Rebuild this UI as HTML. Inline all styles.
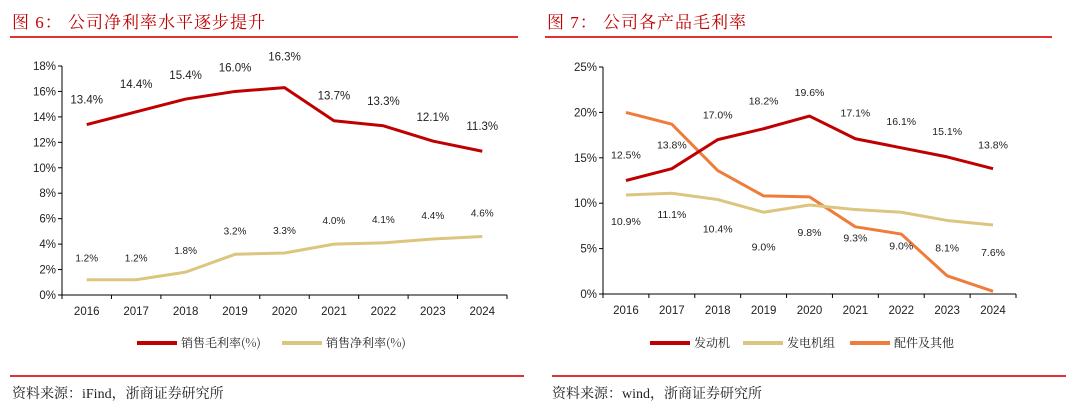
<!DOCTYPE html>
<html><head><meta charset="utf-8"><style>
body{margin:0;width:1080px;height:414px;background:#fff;overflow:hidden;font-family:"Liberation Sans","Noto Sans CJK SC",sans-serif;}
.title{position:absolute;top:8px;font-family:"Liberation Serif","Noto Serif CJK SC",serif;color:#c00000;font-size:17px;letter-spacing:1px}
.src{position:absolute;top:383px;font-family:"Liberation Serif","Noto Serif CJK SC",serif;font-size:14px;color:#222}
.rule{position:absolute;height:1.5px;background:#d33}
svg{position:absolute;left:0;top:0}
</style></head><body>
<div class="title" style="left:12px">图 6： 公司净利率水平逐步提升</div>
<div class="title" style="left:547px">图 7： 公司各产品毛利率</div>
<div class="rule" style="left:10px;width:508px;top:36px"></div>
<div class="rule" style="left:545px;width:507px;top:36px"></div>
<div class="rule" style="left:10px;width:514px;top:375px"></div>
<div class="rule" style="left:552px;width:514px;top:375px"></div>
<div class="src" style="left:12px">资料来源：iFind，浙商证券研究所</div>
<div class="src" style="left:552px">资料来源：wind，浙商证券研究所</div>
<svg id="s" width="1080" height="414"></svg>
<script>
const years=['2016','2017','2018','2019','2020','2021','2022','2023','2024'];
const grossMargin=[13.4,14.4,15.4,16.0,16.3,13.7,13.3,12.1,11.3];
const netMargin=[1.2,1.2,1.8,3.2,3.3,4.0,4.1,4.4,4.6];
const leftTicks=[0,2,4,6,8,10,12,14,16,18];
const engine=[12.5,13.8,17.0,18.2,19.6,17.1,16.1,15.1,13.8];
const genset=[10.9,11.1,10.4,9.0,9.8,9.3,9.0,8.1,7.6];
const parts=[20.0,18.7,13.6,10.8,10.7,7.4,6.6,2.0,0.3];
const rightTicks=[0,5,10,15,20,25];
const NS='http://www.w3.org/2000/svg';
const svg=document.getElementById('s');
function mk(t,a,name){const e=document.createElementNS(NS,t);for(const k in a)e.setAttribute(k,a[k]);


svg.appendChild(e);return e;}
function txt(x,y,s,name,anchor,size){const e=mk('text',{x:x,y:y,'font-size':size||11,'text-anchor':anchor||'middle',fill:'#222'},name);e.textContent=s;return e;}
function chart(o){
 const x0=o.x0,x1=o.x1,yb=o.yb,yt=o.yt,max=o.max,n=years.length,bw=(x1-x0)/n;
 const X=i=>x0+bw*(i+0.5), Y=v=>yb-(v/max)*(yb-yt);
 mk('line',{x1:x0,y1:yt,x2:x0,y2:yb,stroke:'#000','stroke-width':1},'y-axis');
 mk('line',{x1:x0,y1:yb,x2:x1,y2:yb,stroke:'#000','stroke-width':1},'x-axis');
 o.ticks.forEach(t=>{mk('line',{x1:x0-4,y1:Y(t),x2:x0,y2:Y(t),stroke:'#000'},'y-tick');
  txt(x0-6,Y(t)+4,t+'%','y-tick-label','end',11.5);});
 for(let i=0;i<=n;i++)mk('line',{x1:x0+bw*i,y1:yb,x2:x0+bw*i,y2:yb+4,stroke:'#000'},'x-tick');
 years.forEach((y,i)=>txt(X(i),yb+20,y,'x-tick-label','middle',11.5));
 o.series.forEach(s=>{
  mk('polyline',{points:s.d.map((v,i)=>X(i)+','+Y(v)).join(' '),fill:'none',stroke:s.c,'stroke-width':3,'stroke-linejoin':'round'},s.name+'-line');
  if(s.lab) s.d.forEach((v,i)=>txt(X(i),Y(v)+s.lab[i],v.toFixed(1)+'%',s.name+'-label','middle',s.fs||11.5));
 });
}
chart({x0:62,x1:507,yb:295,yt:66,max:18,ticks:leftTicks,series:[
 {d:grossMargin,c:'#c00000',name:'gross-margin',lab:[-21,-24,-20,-20,-27,-21,-21,-20,-21]},
 {d:netMargin,c:'#dcc57e',name:'net-margin',lab:[-18,-18,-18,-20,-19,-20,-20,-20,-20],fs:10}]});
chart({x0:603,x1:1016,yb:294,yt:67,max:25,ticks:rightTicks,series:[
 {d:parts,c:'#ee7d3c',name:'parts'},
 {d:genset,c:'#dcc57e',name:'genset',lab:[30,25,33,38,31,32,37,31,31],fs:10.5},
 {d:engine,c:'#c00000',name:'engine',lab:[-22,-20,-21,-24,-20,-22,-23,-22,-20],fs:10.5}]});
// legends
function leg(x,c,label,name){mk('line',{x1:x,y1:343,x2:x+40,y2:343,stroke:c,'stroke-width':4},name+'-swatch');
 const t=txt(x+44,347,label,name+'-text','start',12);t.setAttribute('font-family','"Noto Serif CJK SC",serif');}
leg(137,'#c00000','销售毛利率(%)','legend-gross-margin');
leg(282,'#dcc57e','销售净利率(%)','legend-net-margin');
leg(650,'#c00000','发动机','legend-engine');
leg(743,'#dcc57e','发电机组','legend-genset');
leg(850,'#ee7d3c','配件及其他','legend-parts');
</script>
</body></html>
